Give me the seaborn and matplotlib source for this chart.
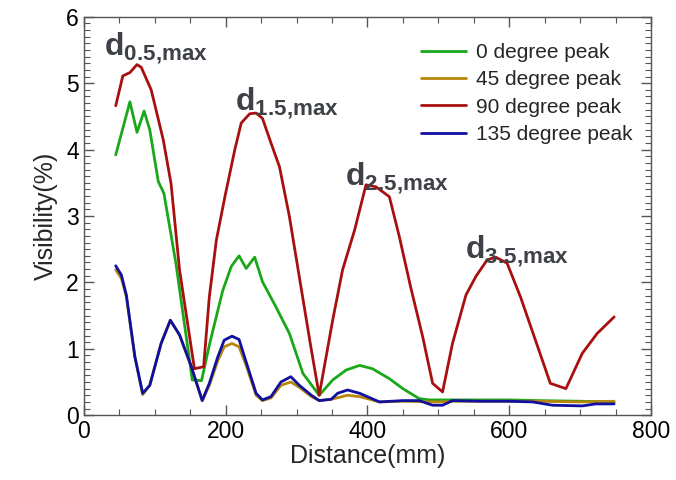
import matplotlib
matplotlib.use("Agg")
import matplotlib.pyplot as plt
from matplotlib.ticker import MultipleLocator
import numpy as np
import pandas as pd
import seaborn as sns

# Visibility (%) versus distance (mm) for each polarisation peak
x_0deg = [45, 65, 75, 85, 93, 105, 113, 130, 153, 166, 178, 196, 208, 219, 229, 241, 252,
          271, 290, 309, 332, 351, 370, 389, 407, 431, 450, 473, 487, 520, 560, 600, 640, 700, 748]
y_0deg = [3.92, 4.72, 4.26, 4.58, 4.30, 3.52, 3.34, 2.28, 0.53, 0.52, 1.10, 1.88, 2.24, 2.40, 2.21, 2.38, 2.01,
          1.63, 1.23, 0.63, 0.30, 0.53, 0.68, 0.75, 0.70, 0.55, 0.40, 0.25, 0.23, 0.23, 0.23, 0.23, 0.22, 0.21, 0.20]

x_45deg = [45, 53, 60, 72, 83, 93, 109, 122, 135, 151, 167, 177, 189, 198, 209, 219, 229, 243, 252,
           264, 278, 292, 304, 321, 332, 349, 372, 389, 417, 450, 492, 506, 520, 560, 600, 640, 700, 748]
y_45deg = [2.19, 2.06, 1.78, 0.88, 0.31, 0.45, 1.08, 1.43, 1.21, 0.75, 0.22, 0.45, 0.82, 1.03, 1.08, 1.03, 0.75, 0.30, 0.22,
           0.26, 0.45, 0.50, 0.42, 0.28, 0.22, 0.24, 0.30, 0.28, 0.20, 0.21, 0.20, 0.20, 0.21, 0.21, 0.21, 0.21, 0.20, 0.21]

x_90deg = [45, 55, 65, 75, 81, 95, 112, 123, 135, 156, 169, 177, 187, 199, 213, 222, 234, 243, 252, 264,
           276, 290, 304, 321, 332, 351, 365, 382, 398, 412, 431, 445, 461, 478, 492, 506, 520, 539, 553,
           569, 581, 597, 616, 637, 658, 680, 703, 724, 748]
y_90deg = [4.66, 5.11, 5.16, 5.28, 5.24, 4.90, 4.15, 3.49, 2.19, 0.70, 0.73, 1.78, 2.64, 3.29, 4.00, 4.40, 4.54, 4.55, 4.47, 4.10,
           3.74, 2.99, 2.08, 0.98, 0.30, 1.43, 2.19, 2.79, 3.47, 3.44, 3.29, 2.69, 1.93, 1.18, 0.48, 0.35, 1.08, 1.81, 2.09,
           2.34, 2.38, 2.29, 1.78, 1.13, 0.48, 0.40, 0.93, 1.23, 1.48]

x_135deg = [45, 53, 60, 72, 83, 93, 109, 122, 135, 151, 167, 177, 189, 198, 209, 219, 229, 243, 252, 264,
            278, 292, 304, 321, 332, 349, 358, 372, 389, 417, 450, 473, 492, 506, 520, 560, 600, 633, 661, 703, 722, 748]
y_135deg = [2.25, 2.11, 1.81, 0.88, 0.33, 0.45, 1.08, 1.43, 1.21, 0.75, 0.22, 0.48, 0.88, 1.13, 1.19, 1.14, 0.80, 0.33, 0.23, 0.28,
            0.50, 0.58, 0.45, 0.30, 0.22, 0.24, 0.33, 0.38, 0.33, 0.20, 0.22, 0.22, 0.15, 0.15, 0.22, 0.21, 0.21, 0.20, 0.15, 0.14, 0.17, 0.17]

series_names = ["0 degree peak", "45 degree peak", "90 degree peak", "135 degree peak"]
series_colors = ["#1aa81a", "#b8860b", "#a81010", "#1010a0"]

# Peak labels: subscript text and anchor position (data units)
peak_subs = ["0.5{,}max", "1.5{,}max", "2.5{,}max", "3.5{,}max"]
peak_x = [28, 213, 368, 537]
peak_y = [5.42, 4.6, 3.47, 2.37]

frames = []
for name, xs, ys in zip(series_names,
                        [x_0deg, x_45deg, x_90deg, x_135deg],
                        [y_0deg, y_45deg, y_90deg, y_135deg]):
    frames.append(pd.DataFrame({"Distance": xs, "Visibility": ys, "series": name}))
df = pd.concat(frames, ignore_index=True)

sns.set_style("ticks")
plt.rcParams["font.family"] = ["Liberation Sans", "DejaVu Sans"]
plt.rcParams["mathtext.fontset"] = "custom"
plt.rcParams["mathtext.rm"] = "Liberation Sans"
plt.rcParams["mathtext.bf"] = "Liberation Sans:bold"

fig = plt.figure(figsize=(6.76, 4.8), dpi=100)
ax = fig.add_axes([0.124, 0.135, 0.839, 0.830])

sns.lineplot(data=df, x="Distance", y="Visibility", hue="series",
             hue_order=series_names, palette=series_colors,
             sort=False, estimator=None, linewidth=2.0, ax=ax, legend=False)

ax.set_xlim(0, 800)
ax.set_ylim(0, 6)
ax.xaxis.set_major_locator(MultipleLocator(200))
ax.xaxis.set_minor_locator(MultipleLocator(50))
ax.yaxis.set_major_locator(MultipleLocator(1))
ax.yaxis.set_minor_locator(MultipleLocator(0.1))
ax.tick_params(which="both", direction="in", top=True, right=True, colors="#555555",
               labelcolor="black", labelsize=16.5)
ax.tick_params(which="major", length=7, width=1)
ax.tick_params(which="minor", length=4, width=0.8)
for sp in ax.spines.values():
    sp.set_color("#555555")
    sp.set_linewidth(1)

ax.set_xlabel("Distance(mm)", fontsize=18, labelpad=1)
ax.set_ylabel("Visibility(%)", fontsize=18, labelpad=6)

handles = [plt.Line2D([], [], color=c, lw=2.0) for c in series_colors]
ax.legend(handles, series_names, loc="upper right", bbox_to_anchor=(1.0, 0.981),
          frameon=False, fontsize=15, handlelength=2.15, handletextpad=0.45,
          labelspacing=0.4)

for sub, px, py in zip(peak_subs, peak_x, peak_y):
    ax.text(px, py, r"$\mathbf{d}_{\mathbf{" + sub + "}}$", fontsize=23,
            color="#3e4148", ha="left", va="baseline")

fig.savefig("out.png", dpi=100)
